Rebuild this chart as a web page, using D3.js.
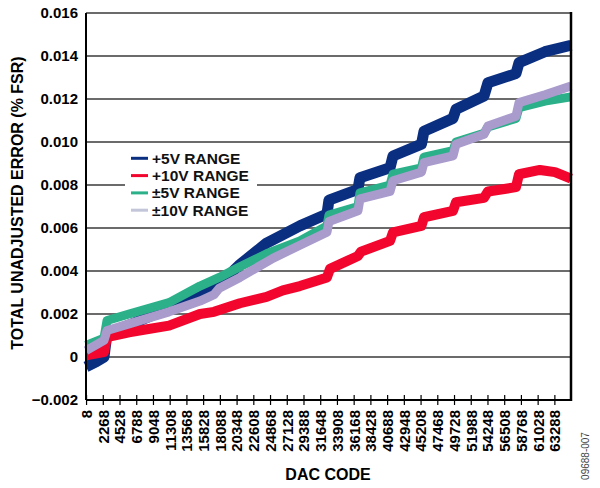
<!DOCTYPE html>
<html>
<head>
<meta charset="utf-8" />
<script src="https://cdn.jsdelivr.net/npm/d3@7"></script>
<style>
  body { margin: 0; background: #fff; }
  text { font-family: "Liberation Sans", Arial, sans-serif; }
</style>
</head>
<body>
<svg width="600" height="488"></svg>
<script>
// x tick labels (DAC code) and y ticks
var xTicks = [8, 2268, 4528, 6788, 9048, 11308, 13568, 15828, 18088, 20348, 22608, 24868, 27128, 29388,
              31648, 33908, 36168, 38428, 40688, 42948, 45208, 47468, 49728, 51988, 54248, 56508, 58768, 61028, 63288];
var yTicks = [-0.002, 0, 0.002, 0.004, 0.006, 0.008, 0.010, 0.012, 0.014, 0.016];

// series: [dac code, error %FSR]
var plus5V = [[0,-0.00046],[1350,-0.00023],[2430,0.0],[2840,0.0011],[5950,0.0015],[8650,0.0019],[12030,0.0024],
  [15400,0.0028],[18100,0.0034],[20800,0.0043],[24400,0.0053],[28900,0.0061],[32560,0.00665],[32830,0.0073],
  [36750,0.0078],[37020,0.00834],[41080,0.0088],[41480,0.00935],[45330,0.0099],[45670,0.0105],[49590,0.0111],
  [50000,0.01152],[53780,0.01214],[54320,0.01276],[58100,0.01318],[58510,0.01369],[62020,0.0142],[65535,0.0145]];
var plus10V = [[0,0.00008],[2430,0.00023],[2840,0.00092],[5810,0.00115],[11220,0.00146],[15400,0.0020],[17300,0.0021],
  [20800,0.0025],[24400,0.0028],[26600,0.0031],[28900,0.0033],[32560,0.0037],[32970,0.0041],[36750,0.0047],
  [37160,0.0049],[41080,0.0054],[41480,0.0058],[45330,0.0061],[45670,0.0065],[49590,0.0068],[50000,0.0072],
  [53780,0.0074],[54320,0.0077],[58100,0.0079],[58510,0.0085],[61340,0.0087],[63370,0.0086],[65535,0.0083]];
var pm5V = [[0,0.00054],[2430,0.00087],[2840,0.0017],[5810,0.002],[11220,0.00253],[15400,0.0033],[18000,0.0037],
  [20800,0.0042],[24400,0.0048],[28900,0.0054],[32560,0.0061],[32830,0.0066],[36750,0.0070],[37020,0.00764],
  [41080,0.0080],[41480,0.0085],[45330,0.0088],[45670,0.0093],[49590,0.0096],[50000,0.0100],[53780,0.0104],
  [54320,0.0107],[58100,0.0111],[58510,0.0116],[62020,0.0119],[65535,0.0121]];
var pm10V = [[0,0.0003],[2430,0.00077],[2840,0.00123],[5810,0.00154],[11220,0.0021],[15400,0.0026],[17300,0.0029],
  [18000,0.0032],[20800,0.0037],[25300,0.0046],[28900,0.0052],[32560,0.0058],[32830,0.0063],[36750,0.0068],
  [37020,0.00735],[41080,0.0077],[41480,0.0082],[45330,0.0086],[45670,0.00904],[49590,0.00935],[50000,0.0099],
  [53780,0.01036],[54320,0.01074],[58100,0.0112],[58510,0.01183],[62020,0.0122],[65535,0.0126]];

var seriesNames = ["+5V RANGE", "+10V RANGE", "\u00b15V RANGE", "\u00b110V RANGE"];
var seriesData = [plus5V, plus10V, pm5V, pm10V];
var seriesColors = ["#0b2f80", "#f2062e", "#2bb08a", "#a99bcc"];
var legendColors = ["#0b2f80", "#f2062e", "#2bb08a", "#c3c6d8"];
var bandWidths = [11, 10, 9, 9];

var svg = d3.select("svg");
var pLeft = 86, pRight = 571, pTop = 13, pBottom = 400;

var x = d3.scaleLinear().domain([0, 65535]).range([pLeft, pRight]);
var y = d3.scaleLinear().domain([-0.002, 0.016]).range([pBottom, pTop]);

// gridlines
svg.append("g").selectAll("line").data(yTicks.slice(1)).enter().append("line")
   .attr("x1", pLeft).attr("x2", pRight)
   .attr("y1", function(d) { return y(d); }).attr("y2", function(d) { return y(d); })
   .attr("stroke", "#3a3a3a").attr("stroke-width", 1.5);

// series: draw order blue, red, green, purple
var line = d3.line().x(function(d) { return x(d[0]); }).y(function(d) { return y(d[1]); });
svg.append("g").selectAll("path").data(seriesData).enter().append("path")
   .attr("d", line)
   .attr("fill", "none")
   .attr("stroke", function(d, i) { return seriesColors[i]; })
   .attr("stroke-width", function(d, i) { return bandWidths[i]; })
   .attr("stroke-linejoin", "round");

// frame
svg.append("line").attr("x1", pLeft).attr("x2", pLeft).attr("y1", pTop).attr("y2", pBottom)
   .attr("stroke", "#000").attr("stroke-width", 2);
svg.append("line").attr("x1", pRight).attr("x2", pRight).attr("y1", pTop - 1).attr("y2", pBottom + 1)
   .attr("stroke", "#000").attr("stroke-width", 2.5);
svg.append("line").attr("x1", pLeft).attr("x2", pRight).attr("y1", pBottom).attr("y2", pBottom)
   .attr("stroke", "#000").attr("stroke-width", 2);

// x axis: crossing ticks, rotated labels
var xAxis = d3.axisBottom(x).tickValues(xTicks).tickFormat(d3.format("d"))
  .tickSizeInner(5).tickSizeOuter(0).tickPadding(6);
var gx = svg.append("g").attr("transform", "translate(0," + pBottom + ")").call(xAxis);
gx.select(".domain").remove();
gx.selectAll(".tick line").attr("y1", -5).attr("y2", 5).attr("stroke", "#000").attr("stroke-width", 1.2);
gx.selectAll(".tick text")
  .attr("transform", "rotate(-90)")
  .attr("x", -10).attr("y", 0).attr("dy", "0.36em")
  .style("text-anchor", "end")
  .style("font-size", "15px").style("font-weight", "bold")
  .style("font-family", "'Liberation Sans', Arial, sans-serif").attr("fill", "#000");

// y axis labels
var yAxis = d3.axisLeft(y).tickValues(yTicks).tickSize(0).tickPadding(8)
  .tickFormat(function(d) { return d === 0 ? "0" : d3.format(".3f")(d).replace("-", "\u2212"); });
var gy = svg.append("g").attr("transform", "translate(" + pLeft + ",0)").call(yAxis);
gy.select(".domain").remove();
gy.selectAll(".tick text")
  .style("font-size", "15px").style("font-weight", "bold")
  .style("font-family", "'Liberation Sans', Arial, sans-serif").attr("fill", "#000");

// axis titles
svg.append("text").attr("x", 328).attr("y", 480).attr("text-anchor", "middle")
   .style("font-size", "16px").style("font-weight", "bold").text("DAC CODE");
svg.append("text").attr("transform", "translate(23,203) rotate(-90)").attr("text-anchor", "middle")
   .style("font-size", "16px").style("font-weight", "bold").text("TOTAL UNADJUSTED ERROR (% FSR)");
svg.append("text").attr("transform", "translate(589,456) rotate(-90)").attr("text-anchor", "middle")
   .style("font-size", "10px").attr("fill", "#444").text("09688-007");

// legend
var legend = svg.append("g");
legend.append("rect").attr("x", 125).attr("y", 148).attr("width", 132).attr("height", 72).attr("fill", "#fff");
var items = legend.selectAll("g.item").data(seriesNames).enter().append("g")
  .attr("transform", function(d, i) { return "translate(131," + (158.3 + i * 17.3) + ")"; });
items.append("line").attr("x1", 0).attr("x2", 17).attr("y1", 0).attr("y2", 0)
  .attr("stroke", function(d, i) { return legendColors[i]; }).attr("stroke-width", 3);
items.append("text").attr("x", 21).attr("y", 0).attr("dy", "0.36em")
  .style("font-size", "15.5px").style("font-weight", "bold").attr("fill", "#111").text(function(d) { return d; });
</script>
</body>
</html>
